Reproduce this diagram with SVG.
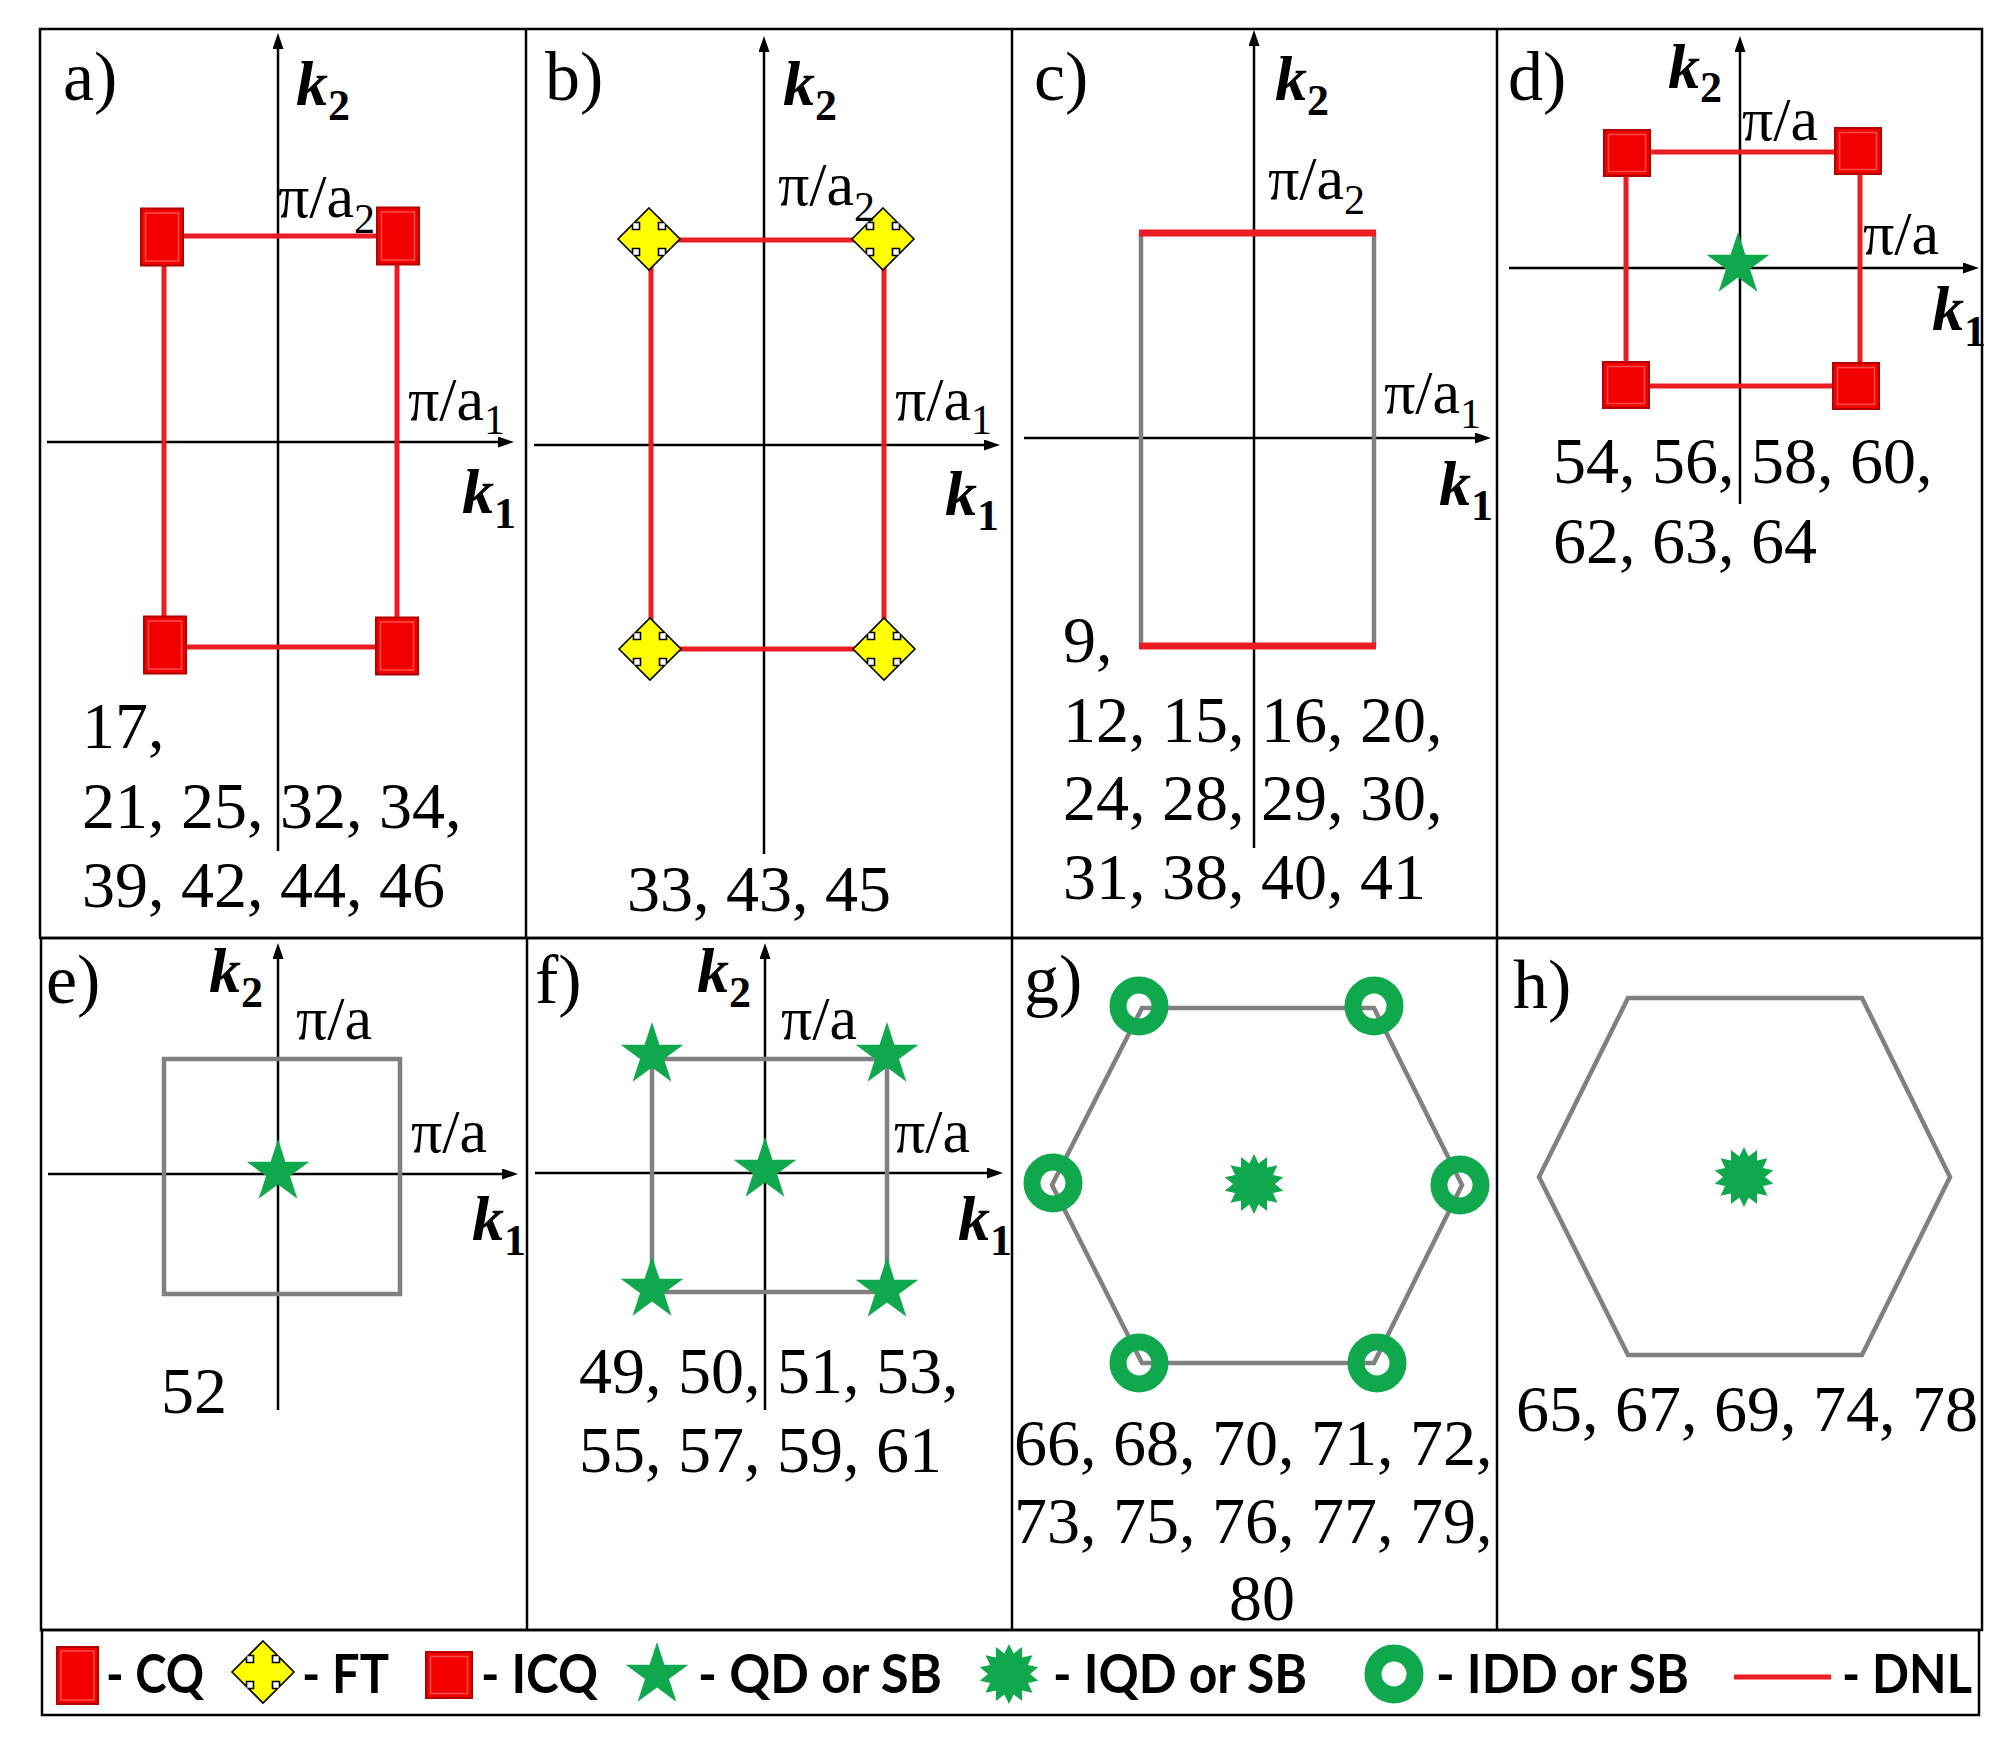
<svg xmlns="http://www.w3.org/2000/svg" width="2016" height="1744" viewBox="0 0 2016 1744">
<style>
.frame{fill:none;stroke:#000;stroke-width:2.5}
.ax{stroke:#000;stroke-width:2.5;fill:none}
.dnl{fill:none;stroke:#ec1c24;stroke-width:5}
.gray{fill:none;stroke:#808080;stroke-width:4.5}
.t{font-family:"Liberation Serif","Times New Roman",serif;fill:#000}
.num{font-size:66px}
.lab{font-size:70px}
.pi{font-size:62px}
.k{font-size:64px;font-weight:bold;font-style:italic}
.sub{font-size:44px;font-weight:bold;font-style:normal}
.psub{font-size:42px}
.leg{font-family:Lato,"Open Sans","Liberation Sans",sans-serif;font-weight:bold;font-size:54px;fill:#000}
</style>
<defs>
<marker id="arr" markerUnits="userSpaceOnUse" markerWidth="18" markerHeight="12" refX="6" refY="5.5" orient="auto">
<path d="M0,0 L16,5.5 L0,11 Z" fill="#000"/>
</marker>
<g id="cq">
<rect x="-21" y="-28.5" width="42" height="57" fill="#f20000" stroke="#b30000" stroke-width="2"/>
<rect x="-16.5" y="-24" width="33" height="48" fill="none" stroke="#ff6060" stroke-width="1.5" opacity="0.8"/>
</g>
<g id="icq">
<rect x="-23" y="-23" width="46" height="46" fill="#f20000" stroke="#b30000" stroke-width="2"/>
<rect x="-18.5" y="-18.5" width="37" height="37" fill="none" stroke="#ff6060" stroke-width="1.5" opacity="0.8"/>
</g>
<path id="ft" d="M0,-31 L14.5,-16.5 L9.5,-16.5 L9.5,-9.5 L16.5,-9.5 L16.5,-14.5 L31,0 L16.5,14.5 L16.5,9.5 L9.5,9.5 L9.5,16.5 L14.5,16.5 L0,31 L-14.5,16.5 L-9.5,16.5 L-9.5,9.5 L-16.5,9.5 L-16.5,14.5 L-31,0 L-16.5,-14.5 L-16.5,-9.5 L-9.5,-9.5 L-9.5,-16.5 L-14.5,-16.5 Z" fill="#ffff00" stroke="#000" stroke-width="1.6" stroke-linejoin="miter"/>
<path id="star" d="M0,-33 L7.41,-10.19 L31.39,-10.2 L11.98,3.89 L19.4,26.7 L0,12.6 L-19.4,26.7 L-11.98,3.89 L-31.39,-10.2 L-7.41,-10.19 Z" fill="#0fa84d"/>
<path id="iqd" d="M0,-30 L4.67,-20.47 L13.02,-27.03 L13.09,-16.42 L23.45,-18.71 L18.92,-9.11 L29.25,-6.68 L21,0 L29.25,6.68 L18.92,9.11 L23.45,18.71 L13.09,16.42 L13.02,27.03 L4.67,20.47 L0,30 L-4.67,20.47 L-13.02,27.03 L-13.09,16.42 L-23.45,18.71 L-18.92,9.11 L-29.25,6.68 L-21,0 L-29.25,-6.68 L-18.92,-9.11 L-23.45,-18.71 L-13.09,-16.42 L-13.02,-27.03 L-4.67,-20.47 Z" fill="#0fa84d"/>
<circle id="idd" r="21" fill="none" stroke="#0fa84d" stroke-width="17"/>
</defs>
<rect width="2016" height="1744" fill="#fff"/>

<g id="frames">
<rect class="frame" x="40" y="29" width="1942" height="909"/>
<line class="frame" x1="526" y1="29" x2="526" y2="938"/>
<line class="frame" x1="1012" y1="29" x2="1012" y2="938"/>
<line class="frame" x1="1497" y1="29" x2="1497" y2="938"/>
<rect class="frame" x="41" y="938" width="1941" height="692"/>
<line class="frame" x1="527" y1="938" x2="527" y2="1630"/>
<line class="frame" x1="1012" y1="938" x2="1012" y2="1630"/>
<line class="frame" x1="1497" y1="938" x2="1497" y2="1630"/>
<rect class="frame" x="42" y="1630" width="1937" height="85"/>
</g>

<g id="panel-a">
<line class="ax" x1="278" y1="851" x2="278" y2="43" marker-end="url(#arr)"/>
<line class="ax" x1="47" y1="442" x2="504" y2="442" marker-end="url(#arr)"/>
<rect class="dnl" x="164" y="236" width="233" height="411"/>
<use href="#cq" x="162" y="237"/>
<use href="#cq" x="398" y="236"/>
<use href="#cq" x="165" y="645"/>
<use href="#cq" x="397" y="646"/>
<text class="t lab" x="63" y="100">a)</text>
<text class="t k" x="296" y="105">k<tspan class="sub" dy="15">2</tspan></text>
<text class="t pi" x="278" y="217">π/a<tspan class="psub" dy="16">2</tspan></text>
<text class="t pi" x="408" y="420">π/a<tspan class="psub" dy="14">1</tspan></text>
<text class="t k" x="462" y="513">k<tspan class="sub" dy="15">1</tspan></text>
<text class="t num" x="82" y="748">17,</text>
<text class="t num" x="82" y="828">21, 25, 32, 34,</text>
<text class="t num" x="82" y="907">39, 42, 44, 46</text>
</g>

<g id="panel-b">
<line class="ax" x1="764" y1="854" x2="764" y2="46" marker-end="url(#arr)"/>
<line class="ax" x1="534" y1="445" x2="990" y2="445" marker-end="url(#arr)"/>
<rect class="dnl" x="651" y="240" width="233" height="409"/>
<use href="#ft" x="649" y="239"/>
<use href="#ft" x="883" y="239"/>
<use href="#ft" x="650" y="649"/>
<use href="#ft" x="884" y="649"/>
<text class="t lab" x="545" y="100">b)</text>
<text class="t k" x="783" y="105">k<tspan class="sub" dy="15">2</tspan></text>
<text class="t pi" x="778" y="205">π/a<tspan class="psub" dy="16">2</tspan></text>
<text class="t pi" x="895" y="420">π/a<tspan class="psub" dy="14">1</tspan></text>
<text class="t k" x="945" y="515">k<tspan class="sub" dy="15">1</tspan></text>
<text class="t num" x="627" y="911">33, 43, 45</text>
</g>

<g id="panel-c">
<line class="ax" x1="1254" y1="848" x2="1254" y2="40" marker-end="url(#arr)"/>
<line class="ax" x1="1024" y1="438" x2="1481" y2="438" marker-end="url(#arr)"/>
<line class="gray" x1="1141" y1="233" x2="1141" y2="646"/>
<line class="gray" x1="1374" y1="233" x2="1374" y2="646"/>
<line stroke="#ec1c24" stroke-width="7" x1="1139" y1="233" x2="1376" y2="233"/>
<line stroke="#ec1c24" stroke-width="7" x1="1139" y1="646" x2="1376" y2="646"/>
<text class="t lab" x="1034" y="100">c)</text>
<text class="t k" x="1275" y="100">k<tspan class="sub" dy="15">2</tspan></text>
<text class="t pi" x="1268" y="199">π/a<tspan class="psub" dy="15">2</tspan></text>
<text class="t pi" x="1384" y="413">π/a<tspan class="psub" dy="15">1</tspan></text>
<text class="t k" x="1439" y="505">k<tspan class="sub" dy="15">1</tspan></text>
<text class="t num" x="1063" y="662">9,</text>
<text class="t num" x="1063" y="742">12, 15, 16, 20,</text>
<text class="t num" x="1063" y="820">24, 28, 29, 30,</text>
<text class="t num" x="1063" y="899">31, 38, 40, 41</text>
</g>

<g id="panel-d">
<line class="ax" x1="1740" y1="504" x2="1740" y2="46" marker-end="url(#arr)"/>
<line class="ax" x1="1509" y1="268" x2="1969" y2="268" marker-end="url(#arr)"/>
<rect class="dnl" x="1626" y="152" width="234" height="234"/>
<use href="#icq" x="1627" y="153"/>
<use href="#icq" x="1858" y="151"/>
<use href="#icq" x="1626" y="385"/>
<use href="#icq" x="1856" y="386"/>
<use href="#star" x="1738" y="265"/>
<text class="t lab" x="1508" y="100">d)</text>
<text class="t k" x="1668" y="88">k<tspan class="sub" dy="14">2</tspan></text>
<text class="t pi" x="1742" y="140">π/a</text>
<text class="t pi" x="1863" y="254">π/a</text>
<text class="t k" x="1932" y="330">k<tspan class="sub" dy="16">1</tspan></text>
<text class="t num" x="1553" y="483">54, 56, 58, 60,</text>
<text class="t num" x="1553" y="563">62, 63, 64</text>
</g>

<g id="panel-e">
<line class="ax" x1="278" y1="1410" x2="278" y2="953" marker-end="url(#arr)"/>
<line class="ax" x1="48" y1="1174" x2="508" y2="1174" marker-end="url(#arr)"/>
<rect class="gray" x="164" y="1059" width="236" height="235"/>
<use href="#star" x="278" y="1172"/>
<text class="t lab" x="46" y="1003">e)</text>
<text class="t k" x="209" y="992">k<tspan class="sub" dy="15">2</tspan></text>
<text class="t pi" x="296" y="1039">π/a</text>
<text class="t pi" x="411" y="1152">π/a</text>
<text class="t k" x="472" y="1240">k<tspan class="sub" dy="15">1</tspan></text>
<text class="t num" x="161" y="1413">52</text>
</g>

<g id="panel-f">
<line class="ax" x1="765" y1="1410" x2="765" y2="953" marker-end="url(#arr)"/>
<line class="ax" x1="535" y1="1173" x2="993" y2="1173" marker-end="url(#arr)"/>
<rect class="gray" x="652" y="1059" width="235" height="233"/>
<use href="#star" x="652" y="1055"/>
<use href="#star" x="887" y="1055"/>
<use href="#star" x="652" y="1289"/>
<use href="#star" x="887" y="1290"/>
<use href="#star" x="765" y="1170"/>
<text class="t lab" x="535" y="1003">f)</text>
<text class="t k" x="697" y="992">k<tspan class="sub" dy="15">2</tspan></text>
<text class="t pi" x="781" y="1039">π/a</text>
<text class="t pi" x="894" y="1152">π/a</text>
<text class="t k" x="958" y="1240">k<tspan class="sub" dy="15">1</tspan></text>
<text class="t num" x="579" y="1393">49, 50, 51, 53,</text>
<text class="t num" x="579" y="1472">55, 57, 59, 61</text>
</g>

<g id="panel-g">
<polygon class="gray" points="1142,1008 1374,1008 1462,1185 1374,1363 1142,1363 1052,1185"/>
<use href="#idd" x="1139" y="1006"/>
<use href="#idd" x="1374" y="1006"/>
<use href="#idd" x="1460" y="1185"/>
<use href="#idd" x="1377" y="1363"/>
<use href="#idd" x="1139" y="1363"/>
<use href="#idd" x="1053" y="1183"/>
<use href="#iqd" x="1254" y="1184"/>
<text class="t lab" x="1024" y="1003">g)</text>
<text class="t num" x="1014" y="1465">66, 68, 70, 71, 72,</text>
<text class="t num" x="1014" y="1543">73, 75, 76, 77, 79,</text>
<text class="t num" x="1262" y="1620" text-anchor="middle">80</text>
</g>

<g id="panel-h">
<polygon class="gray" points="1628,998 1862,998 1950,1177 1862,1355 1628,1355 1539,1177"/>
<use href="#iqd" x="1744" y="1177"/>
<text class="t lab" x="1513" y="1008">h)</text>
<text class="t num" x="1516" y="1431">65, 67, 69, 74, 78</text>
</g>

<g id="legend">
<g id="leg-cq"><rect x="57" y="1647" width="41" height="57" fill="#f20000" stroke="#b30000" stroke-width="2"/><rect x="61" y="1651" width="33" height="49" fill="none" stroke="#ff6060" stroke-width="1.5" opacity="0.8"/>
<text class="leg" x="106" y="1693" textLength="98" lengthAdjust="spacingAndGlyphs">- CQ</text></g>
<g id="leg-ft"><use href="#ft" x="263" y="1672"/>
<text class="leg" x="302" y="1693" textLength="87" lengthAdjust="spacingAndGlyphs">- FT</text></g>
<g id="leg-icq"><use href="#icq" x="449" y="1675"/>
<text class="leg" x="481" y="1693" textLength="117" lengthAdjust="spacingAndGlyphs">- ICQ</text></g>
<g id="leg-qd"><use href="#star" x="657" y="1675"/>
<text class="leg" x="698" y="1693" textLength="244" lengthAdjust="spacingAndGlyphs">- QD or SB</text></g>
<g id="leg-iqd"><use href="#iqd" x="1009" y="1674"/>
<text class="leg" x="1053" y="1693" textLength="254" lengthAdjust="spacingAndGlyphs">- IQD or SB</text></g>
<g id="leg-idd"><use href="#idd" x="1394" y="1674"/>
<text class="leg" x="1436" y="1693" textLength="253" lengthAdjust="spacingAndGlyphs">- IDD or SB</text></g>
<g id="leg-dnl"><line x1="1734" y1="1677" x2="1831" y2="1677" stroke="#ec1c24" stroke-width="5"/>
<text class="leg" x="1842" y="1693" textLength="130" lengthAdjust="spacingAndGlyphs">- DNL</text></g>
</g>
</svg>
